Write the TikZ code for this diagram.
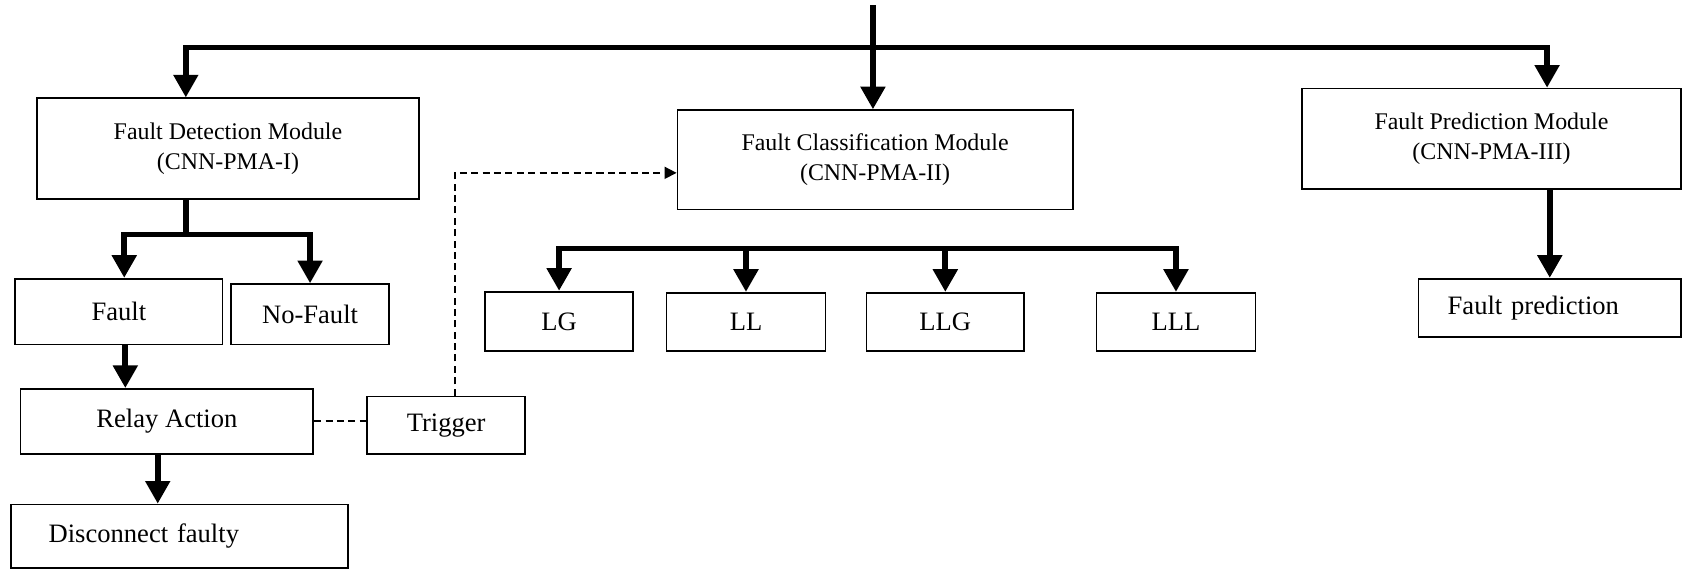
\documentclass[tikz,border=0pt]{standalone}
\usepackage{fontspec}
\setmainfont{Liberation Serif}
\usetikzlibrary{arrows.meta}

\begin{document}
\begin{tikzpicture}[
    x=0.02cm, y=-0.02cm,
    >={Triangle[width=0.44cm,length=0.42cm]},
    box/.style={rectangle, draw, line width=0.9pt, font=\fontsize{14}{17}\selectfont},
    modbox/.style={box, align=center, font=\fontsize{12.6}{16}\selectfont},
    arrow/.style={->, line width=3pt},
    twoarrow/.style={<->, line width=3pt},
    stem/.style={line width=3pt},
    dashline/.style={dash pattern=on 3.7pt off 2.3pt, line width=0.9pt}
]
\useasboundingbox (0,0) rectangle (1568,527);

% Modules
\node (fdm) [modbox, minimum width=7.08cm, minimum height=1.86cm] at (211,137.5)
    {Fault Detection Module\\(CNN-PMA-I)};
\node (fcm) [modbox, minimum width=7.32cm, minimum height=1.84cm] at (810,148)
    {Fault Classification Module\\(CNN-PMA-II)};
\node (fpm) [modbox, minimum width=7.02cm, minimum height=1.86cm] at (1380.5,128.5)
    {Fault Prediction Module\\(CNN-PMA-III)};

% Detection side
\node (fault) [box, minimum width=3.84cm, minimum height=1.22cm] at (110,288.5) {Fault};
\node (nofault) [box, minimum width=2.92cm, minimum height=1.12cm] at (287,291) {No-Fault};
\node (relay) [box, minimum width=5.42cm, minimum height=1.2cm] at (154.5,390) {Relay Action};
\node (trigger) [box, minimum width=2.92cm, minimum height=1.06cm] at (413,393.5) {Trigger};
\node (disconnect) [box, text width=4.84cm, inner xsep=0.7cm, align=left, minimum height=1.18cm] at (166,496.5)
    {Disconnect faulty};

% Fault classes
\node (lg) [box, minimum width=2.74cm, minimum height=1.1cm] at (517.5,297.5) {LG};
\node (ll) [box, minimum width=2.94cm, minimum height=1.08cm] at (690.5,298) {LL};
\node (llg) [box, minimum width=2.92cm, minimum height=1.08cm] at (875,298) {LLG};
\node (lll) [box, minimum width=2.94cm, minimum height=1.08cm] at (1088.5,298) {LLL};

% Prediction side
\node (fpred) [box, text width=3.78cm, inner xsep=0.54cm, align=left, minimum height=1.08cm] at (1434.5,285)
    {Fault prediction};

% Bus points
\coordinate (input) at (808,5);
\coordinate (busL) at (172,44);
\coordinate (busR) at (1432,44);
\coordinate (fdsplit) at (172,217);
\coordinate (cbus) at (0,230);

% Thick arrows
\draw [arrow] (input) -- (input |- fcm.north);
\draw [twoarrow] (busL |- fdm.north) -- (busL) -- (busR) -- (busR |- fpm.north);
\draw [stem] (fdsplit |- fdm.south) -- (fdsplit);
\draw [twoarrow] ([xshift=0.1cm]fault.north) -- ([xshift=0.1cm]fault.north |- fdsplit)
    -- (nofault.north |- fdsplit) -- (nofault.north);
\draw [arrow] ([xshift=0.12cm]fault.south) -- ([xshift=0.12cm]fault.south |- relay.north);
\draw [arrow] ([xshift=-0.17cm]relay.south) -- ([xshift=-0.17cm]relay.south |- disconnect.north);
\draw [twoarrow] (lg.north) -- (lg.north |- cbus) -- (lll.north |- cbus) -- (lll.north);
\draw [arrow] (ll.north |- cbus) -- (ll.north);
\draw [arrow] (llg.north |- cbus) -- (llg.north);
\draw [arrow] (fpred.north |- fpm.south) -- (fpred.north);

% Dashed trigger path
\draw [dashline] (relay.east) -- (relay.east -| trigger.west);
\draw [dashline, -{Triangle[width=0.22cm,length=0.22cm]}] ([xshift=0.16cm]trigger.north)
    |- ([yshift=-0.24cm]fcm.west);

\end{tikzpicture}
\end{document}
